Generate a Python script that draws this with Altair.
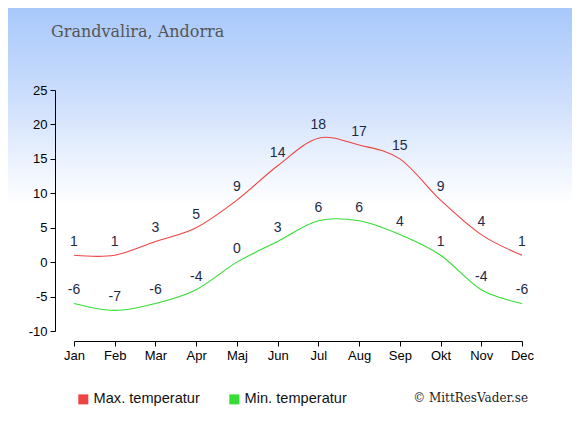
import altair as alt
import pandas as pd

months = ["Jan", "Feb", "Mar", "Apr", "Maj", "Jun", "Jul", "Aug", "Sep", "Okt", "Nov", "Dec"]
max_temp = [1, 1, 3, 5, 9, 14, 18, 17, 15, 9, 4, 1]
min_temp = [-6, -7, -6, -4, 0, 3, 6, 6, 4, 1, -4, -6]
series_names = ["Max. temperatur", "Min. temperatur"]
series_colors = ["#ee4444", "#33dd33"]
y_ticks = [-10, -5, 0, 5, 10, 15, 20, 25]

rows = []
for m, v in zip(months, max_temp):
    rows.append({"month": m, "series": series_names[0], "value": v, "label": str(v)})
for m, v in zip(months, min_temp):
    rows.append({"month": m, "series": series_names[1], "value": v, "label": str(v)})
df = pd.DataFrame(rows)

W, H = 448, 241
PL, PT, PR, PB = 66, 82, 50, 96

one = alt.Data(values=[{"a": 1}])

bg = alt.Chart(one).mark_rect(
    fill=alt.Gradient(
        gradient="linear",
        x1=0, y1=0, x2=0, y2=1,
        stops=[alt.GradientStop(offset=0, color="#a8c8fb"),
               alt.GradientStop(offset=0.22, color="#cddffc"),
               alt.GradientStop(offset=0.34, color="#e6effd"),
               alt.GradientStop(offset=0.47, color="#ffffff"),
               alt.GradientStop(offset=1, color="#ffffff")],
    )
).encode(
    x=alt.value(-PL), x2=alt.value(W + PR),
    y=alt.value(-PT), y2=alt.value(H + PB),
)

xenc = alt.X("month:O", sort=months, scale=alt.Scale(type="point", padding=0),
             axis=alt.Axis(title=None, labelAngle=0, offset=10, domainColor="#000",
                           tickColor="#000", tickSize=5, labelFontSize=13,
                           labelFont="Liberation Sans", labelColor="#000", labelPadding=3,
                           labelOverlap=False, grid=False, zindex=2))
yenc = alt.Y("value:Q", scale=alt.Scale(domain=[-10, 25], nice=False, zero=False),
             axis=alt.Axis(title=None, values=y_ticks, offset=19, domainColor="#000",
                           tickColor="#000", tickSize=5, labelFontSize=13,
                           labelFont="Liberation Sans", labelColor="#000", labelPadding=3,
                           labelExpr="datum.value + ''",
                           labelOverlap=False, grid=False, zindex=2))

color = alt.Color("series:N", scale=alt.Scale(domain=series_names, range=series_colors),
                  legend=alt.Legend(title=None, orient="none", legendX=2, legendY=302,
                                    direction="horizontal", symbolType="square",
                                    symbolSize=25, symbolStrokeWidth=5,
                                    labelFontSize=14.6, labelFont="Liberation Sans",
                                    labelColor="#111", labelOffset=3, columnPadding=21,
                                    zindex=2))

lines = alt.Chart(df).mark_line(interpolate="cardinal", strokeWidth=1.1).encode(
    x=xenc, y=yenc, color=color, detail="series:N"
)

labels = alt.Chart(df).mark_text(dy=-13, fontSize=14, font="Liberation Sans",
                                 color="#1c2a48", baseline="middle").encode(
    x=xenc, y=yenc, text="label:N"
)

title = alt.Chart(one).mark_text(text="Grandvalira, Andorra", font="DejaVu Serif",
                                 fontSize=16, color="#555555", align="left",
                                 baseline="alphabetic").encode(
    x=alt.value(-23), y=alt.value(-53)
)

credit = alt.Chart(one).mark_text(text="© MittResVader.se", font="DejaVu Serif",
                                  fontSize=12, color="#222222", align="right",
                                  baseline="alphabetic").encode(
    x=alt.value(528 - 74), y=alt.value(402 - 90)
)

chart = alt.layer(bg, lines, labels, title, credit).properties(
    width=W, height=H,
    autosize=alt.AutoSizeParams(type="none"),
    padding={"left": PL, "top": PT, "right": PR, "bottom": PB},
).configure_view(stroke=None).configure(background="#ffffff")

chart.save("out.html", embed_options={"renderer": "svg", "actions": False})
